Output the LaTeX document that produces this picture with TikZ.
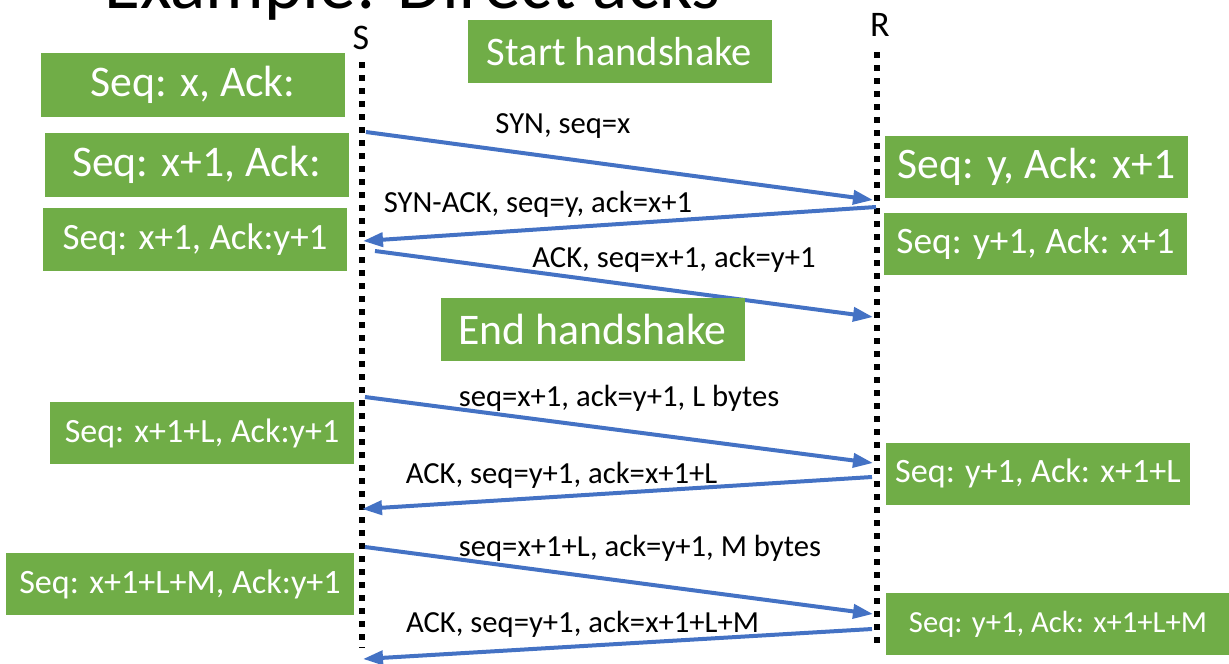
\documentclass[tikz,border=0pt]{standalone}
\usepackage{fontspec}
\setmainfont{Carlito}
\usetikzlibrary{arrows.meta,positioning}
\definecolor{slidegreen}{HTML}{70AD47}
\definecolor{msgblue}{HTML}{4472C4}
\tikzset{
  statebox/.style={fill=slidegreen, text=white, inner sep=0pt,
    minimum width=228pt, minimum height=46.5pt},
  msg/.style={draw=msgblue, line width=3pt,
    -{Triangle[length=15pt,width=10.5pt,fill=msgblue]}},
  lifeline/.style={line width=4.2pt, dash pattern=on 4.5pt off 5.25pt},
  msglabel/.style={anchor=base, inner sep=0pt, font=\fontsize{23}{27}\selectfont},
  endname/.style={anchor=base, inner sep=0pt, font=\fontsize{27}{32}\selectfont}
}

\begin{document}
\begin{tikzpicture}[x=0.75pt, y=-0.75pt]
  \useasboundingbox (0,0) rectangle (1229,664);

  % title, cut off by the top edge
  \node[anchor=base west, inner sep=0pt, font=\fontsize{55}{66}\selectfont]
    (title) at (104,8) {Example: Direct acks};

  % the two ends
  \node[endname] (S) at (361,49) {S};
  \node[endname] (R) at (880,36) {R};
  \coordinate (Stop) at (362,62);
  \coordinate (Sbot) at (362,648);
  \coordinate (Rtop) at (877,52);
  \coordinate (Rbot) at (877,648);
  \draw[lifeline] (Stop) -- (Sbot);
  \draw[lifeline] (Rtop) -- (Rbot);

  % message ends on the lifelines
  \coordinate (syn0) at (366,132);   \coordinate (syn1) at (873,200);
  \coordinate (synack0) at (876,207); \coordinate (synack1) at (363,241);
  \coordinate (ack0) at (375,251);   \coordinate (ack1) at (873,317);
  \coordinate (dataL0) at (365,397); \coordinate (dataL1) at (873,463);
  \coordinate (ackL0) at (872,477);  \coordinate (ackL1) at (362,509);
  \coordinate (dataM0) at (365,547); \coordinate (dataM1) at (873,614);
  \coordinate (ackM0) at (872,629);  \coordinate (ackM1) at (363,659);

  \foreach \m in {syn,synack,ack,dataL,ackL,dataM,ackM}
    \draw[msg] (\m0) -- (\m1);

  % state boxes
  \node[statebox, font=\fontsize{30.4}{36}\selectfont, minimum height=47pt]
    (start) at (619.5,51.5) {Start handshake};
  \node[statebox, font=\fontsize{32.8}{39}\selectfont, minimum height=48pt]
    (sx) at (193,85) {Seq: x, Ack:};
  \node[statebox, font=\fontsize{32.8}{39}\selectfont, minimum height=48pt]
    (sx1) at (196.5,165) {Seq: x+1, Ack:};
  \node[statebox, font=\fontsize{27.8}{33}\selectfont, minimum height=47pt]
    (sx1y1) at (195,239.5) {Seq: x+1, Ack:y+1};
  \node[statebox, font=\fontsize{32.7}{39}\selectfont, minimum width=227pt]
    (ry) at (1036.5,166.5) {Seq: y, Ack: x+1};
  \node[statebox, font=\fontsize{28}{33}\selectfont, minimum width=227pt]
    (ry1) at (1035.5,243.5) {Seq: y+1, Ack: x+1};
  \node[statebox, font=\fontsize{32.8}{39}\selectfont, minimum height=47pt]
    (end) at (592.5,329.5) {End handshake};
  \node[statebox, font=\fontsize{25.5}{30}\selectfont]
    (sL) at (202,433) {Seq: x+1+L, Ack:y+1};
  \node[statebox, font=\fontsize{25.6}{30}\selectfont]
    (rL) at (1038,473.5) {Seq: y+1, Ack: x+1+L};
  \node[statebox, font=\fontsize{25.6}{30}\selectfont, minimum width=261pt]
    (sM) at (180,584) {Seq: x+1+L+M, Ack:y+1};
  \node[statebox, font=\fontsize{23}{27}\selectfont, minimum width=258pt]
    (rM) at (1058,624) {Seq: y+1, Ack: x+1+L+M};

  % message labels
  \node[msglabel] (synlbl) at (563,133) {SYN, seq=x};
  \node[msglabel] (synacklbl) at (538,212) {SYN-ACK, seq=y, ack=x+1};
  \node[msglabel] (acklbl) at (674,267) {ACK, seq=x+1, ack=y+1};
  \node[msglabel] (dataLlbl) at (619,406) {seq=x+1, ack=y+1, L bytes};
  \node[msglabel] (ackLlbl) at (561.5,483) {ACK, seq=y+1, ack=x+1+L};
  \node[msglabel] (dataMlbl) at (640,556) {seq=x+1+L, ack=y+1, M bytes};
  \node[msglabel] (ackMlbl) at (582.5,632) {ACK, seq=y+1, ack=x+1+L+M};
\end{tikzpicture}
\end{document}
